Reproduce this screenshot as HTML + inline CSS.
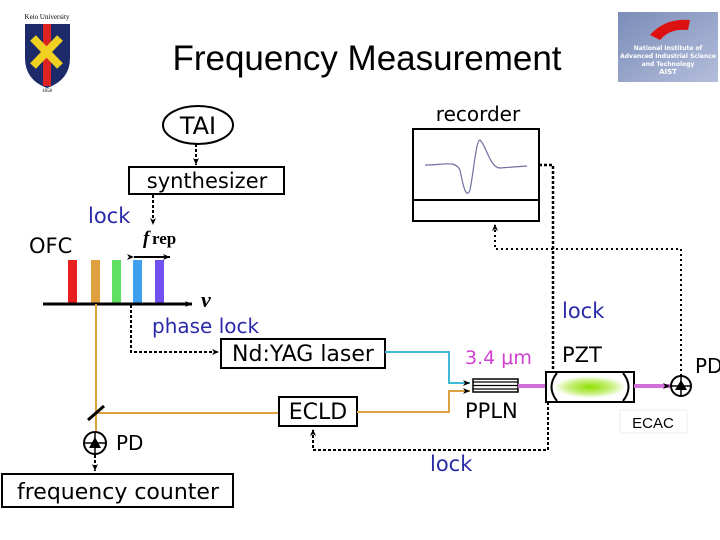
<!DOCTYPE html>
<html><head><style>
body{margin:0;background:#fff;width:720px;height:540px;overflow:hidden}
svg{display:block}
text{font-family:"DejaVu Sans","Liberation Sans",sans-serif}
</style></head><body>
<svg width="720" height="540" viewBox="0 0 720 540">
<defs>
<marker id="a" markerWidth="8" markerHeight="8" refX="7" refY="4" orient="auto" markerUnits="userSpaceOnUse"><path d="M0,1 L7,4 L0,7 L2,4z" fill="#000"/></marker>
<radialGradient id="g"><stop offset="0" stop-color="#8fe000"/><stop offset="0.6" stop-color="#c8f080"/><stop offset="1" stop-color="#fff"/></radialGradient>
<linearGradient id="aist" x1="0" y1="0" x2="1" y2="1"><stop offset="0" stop-color="#7a8cb8"/><stop offset="1" stop-color="#b4bedb"/></linearGradient>
</defs>
<text x="47" y="19" font-size="7" text-anchor="middle" style="font-family:'Liberation Serif',serif">Keio University</text>
<path d="M25,24 H70 V58 Q70,80 47,88 Q25,80 25,58z" fill="#1c2a6a"/>
<rect x="43" y="24" width="8" height="62" fill="#d22"/>
<path d="M33,38 L60,66 M60,38 L33,66" stroke="#f0d020" stroke-width="8"/>
<text x="47" y="92" font-size="5" text-anchor="middle" style="font-family:'Liberation Serif',serif">1858</text>
<rect x="618" y="12" width="100" height="70" fill="url(#aist)"/>
<path d="M650,35 Q665,18 690,20 L688,30 Q670,28 660,40z" fill="#d11"/>
<text x="668" y="50" font-size="6" fill="#fff" text-anchor="middle" font-weight="bold">National Institute of</text>
<text x="668" y="58" font-size="6" fill="#fff" text-anchor="middle" font-weight="bold">Advanced Industrial Science</text>
<text x="668" y="66" font-size="6" fill="#fff" text-anchor="middle" font-weight="bold">and Technology</text>
<text x="668" y="74" font-size="7" fill="#fff" text-anchor="middle" font-weight="bold">AIST</text>
<text x="367" y="70" font-size="35" text-anchor="middle" style="font-family:'Liberation Sans',sans-serif">Frequency Measurement</text>

<ellipse cx="198" cy="125" rx="35" ry="19" fill="none" stroke="#000" stroke-width="2"/>
<text x="198" y="134" font-size="24" text-anchor="middle">TAI</text>
<path d="M196,144 V165" stroke="#000" stroke-width="2" stroke-dasharray="3,2" marker-end="url(#a)"/>
<rect x="129" y="167" width="155" height="27" fill="none" stroke="#000" stroke-width="2"/>
<text x="207" y="188" font-size="21" text-anchor="middle">synthesizer</text>
<path d="M153,195 V225" stroke="#000" stroke-width="2" stroke-dasharray="3,2" marker-end="url(#a)"/>
<text x="88" y="223" font-size="21" fill="#2a2aa8">lock</text>
<text x="29" y="253" font-size="21">OFC</text>
<text x="143" y="244" font-size="19" font-weight="bold" font-style="italic" style="font-family:'Liberation Serif',serif">f</text>
<text x="152" y="244" font-size="17" font-weight="bold" style="font-family:'Liberation Serif',serif">rep</text>
<path d="M134,257 H170" stroke="#000" stroke-width="2" marker-end="url(#a)" marker-start="url(#a)"/>
<rect x="68" y="260" width="9" height="44" fill="#e82020"/>
<rect x="91" y="260" width="9" height="44" fill="#e0a040"/>
<rect x="112" y="260" width="9" height="44" fill="#60e060"/>
<rect x="133" y="260" width="9" height="44" fill="#40a0f0"/>
<rect x="155" y="260" width="9" height="44" fill="#7050f0"/>
<path d="M43,304 H192" stroke="#000" stroke-width="3" marker-end="url(#a)"/>
<text x="201" y="307" font-size="22" font-weight="bold" font-style="italic" style="font-family:'Liberation Serif',serif">v</text>
<text x="152" y="333" font-size="20" fill="#2a2aa8">phase lock</text>
<path d="M131,305 V352 H219" stroke="#000" stroke-width="2" fill="none" stroke-dasharray="3,2" marker-end="url(#a)"/>
<rect x="221" y="339" width="164" height="29" fill="none" stroke="#000" stroke-width="2"/>
<text x="303" y="361" font-size="22" text-anchor="middle">Nd:YAG laser</text>
<path d="M96,304 V413 H279" stroke="#e0a040" stroke-width="2" fill="none"/>
<path d="M96,413 V436" stroke="#e0a040" stroke-width="2"/>
<path d="M88,420 L104,406" stroke="#000" stroke-width="3"/>
<rect x="279" y="397" width="78" height="29" fill="none" stroke="#000" stroke-width="2"/>
<text x="318" y="419" font-size="22" text-anchor="middle">ECLD</text>
<path d="M357,412 H449 V391 H470" stroke="#e0a040" stroke-width="2" fill="none" marker-end="url(#a)"/>
<path d="M385,352 H449 V383 H470" stroke="#40b8d8" stroke-width="2" fill="none" marker-end="url(#a)"/>
<circle cx="95" cy="443" r="11" fill="#fff" stroke="#000" stroke-width="2"/>
<path d="M84,443 H106 M95,432 V454" stroke="#000" stroke-width="1.5"/>
<path d="M89,448 L95,437 L101,448z" fill="#000"/>
<text x="116" y="450" font-size="20">PD</text>
<path d="M95,455 V471" stroke="#000" stroke-width="2" stroke-dasharray="3,2" marker-end="url(#a)"/>
<rect x="2" y="474" width="231" height="33" fill="none" stroke="#000" stroke-width="2"/>
<text x="118" y="499" font-size="22" text-anchor="middle">frequency counter</text>
<rect x="473" y="379" width="45" height="13" fill="#fff" stroke="#000" stroke-width="1.5"/>
<path d="M473,382 H518 M473,385.5 H518 M473,389 H518" stroke="#000" stroke-width="1.2"/>
<text x="465" y="418" font-size="21">PPLN</text>
<text x="465" y="364" font-size="19" fill="#d040d0">3.4 μm</text>
<path d="M518,386 H547" stroke="#d070d8" stroke-width="4"/>
<rect x="546" y="372" width="88" height="30" fill="#fff" stroke="#000" stroke-width="2"/>
<ellipse cx="590" cy="387" rx="36" ry="11" fill="url(#g)"/>
<path d="M557,373 Q546,387 557,401 M623,373 Q634,387 623,401" fill="none" stroke="#000" stroke-width="2"/>
<text x="562" y="362" font-size="21">PZT</text>
<text x="562" y="318" font-size="21" fill="#2a2aa8">lock</text>
<path d="M634,386 H670" stroke="#d070d8" stroke-width="4" marker-end="url(#a)"/>
<circle cx="681" cy="386" r="10" fill="#fff" stroke="#000" stroke-width="2"/>
<path d="M671,386 H691 M681,376 V396" stroke="#000" stroke-width="1.5"/>
<path d="M675,390 L681,380 L687,390z" fill="#000"/>
<text x="695" y="373" font-size="20">PD</text>
<rect x="620" y="410" width="67" height="23" fill="#fff" stroke="#eee"/>
<text x="653" y="428" font-size="15" text-anchor="middle" style="font-family:'Liberation Sans',sans-serif">ECAC</text>
<text x="478" y="121" font-size="20" text-anchor="middle">recorder</text>
<rect x="413" y="129" width="126" height="92" fill="#fff" stroke="#000" stroke-width="2"/>
<path d="M413,200 H539" stroke="#000" stroke-width="2"/>
<path d="M425,165 C445,165 455,160 460,170 C463,185 466,200 470,190 C474,170 476,140 480,140 C486,145 490,168 500,168 L527,166" fill="none" stroke="#7070a0" stroke-width="1.2"/>
<path d="M539,165 H553 V371" stroke="#000" stroke-width="2.5" fill="none" stroke-dasharray="3,2"/>
<path d="M681,376 V249 H495 V224" stroke="#000" stroke-width="2" fill="none" stroke-dasharray="2,3" marker-end="url(#a)"/>
<path d="M548,402 V450 H313 V429" stroke="#000" stroke-width="2" fill="none" stroke-dasharray="3,2" marker-end="url(#a)"/>
<text x="430" y="471" font-size="21" fill="#2a2aa8">lock</text>
</svg>
</body></html>
